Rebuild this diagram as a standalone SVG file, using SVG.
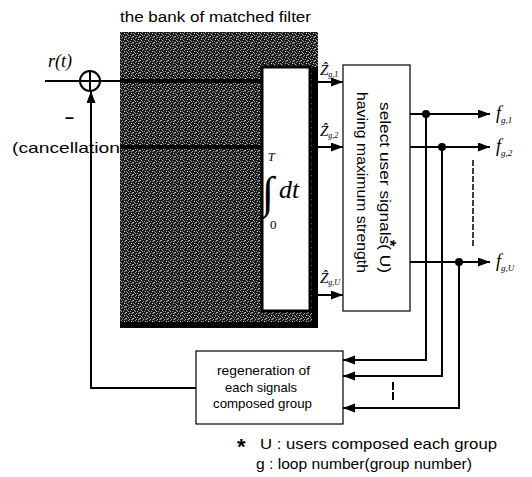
<svg xmlns="http://www.w3.org/2000/svg" width="532" height="477" viewBox="0 0 532 477">
<style>
.box{fill:#fff;stroke:#000;stroke-width:1.2}
.ln{fill:none;stroke:#000;stroke-width:2}
.arr{marker-end:url(#ah)}
.sans{font-family:"Liberation Sans",Arial,sans-serif;fill:#000}
.ser{font-family:"Liberation Serif","Times New Roman",serif;font-style:italic;fill:#000}
.dot{fill:#000}
</style>
<defs>
<marker id="ah" markerUnits="userSpaceOnUse" markerWidth="13" markerHeight="10" refX="12" refY="4.5" orient="auto">
<path d="M0,0 L12,4.5 L0,9 Z" fill="#000"/>
</marker>
<pattern id="noise" width="7" height="6" patternUnits="userSpaceOnUse">
<rect width="7" height="6" fill="#1a1a1a"/>
<rect x="0" y="0" width="1" height="1" fill="#ccc"/>
<rect x="3" y="1" width="1" height="1" fill="#aaa"/>
<rect x="5" y="3" width="1" height="1" fill="#ddd"/>
<rect x="1" y="4" width="1" height="1" fill="#bbb"/>
<rect x="4" y="5" width="1" height="1" fill="#999"/>
<rect x="6" y="0" width="1" height="2" fill="#888"/>
<rect x="2" y="2" width="1" height="1" fill="#999"/>
<rect x="5" y="1" width="1" height="1" fill="#777"/>
<rect x="2" y="5" width="1" height="1" fill="#aaa"/>
<rect x="0" y="3" width="1" height="1" fill="#888"/>
</pattern>
</defs>

<text class="sans" x="120" y="22" font-size="14" textLength="191" lengthAdjust="spacingAndGlyphs">the bank of matched filter</text>
<text class="ser" x="48" y="67" font-size="18">r(t)</text>
<text class="sans" x="65" y="123" font-size="16" font-weight="bold">–</text>
<text class="sans" x="12" y="153" font-size="15" textLength="108" lengthAdjust="spacingAndGlyphs">(cancellation</text>

<g id="matched-filter-bank">
<rect x="120" y="32" width="198" height="296" fill="url(#noise)"/>
<rect x="120" y="79" width="142" height="4" fill="#000"/>
<rect x="120" y="145" width="142" height="4" fill="#000"/>
<rect x="312" y="67" width="6" height="261" fill="#000"/>
<rect x="120" y="322" width="198" height="6" fill="#000"/>
</g>

<g id="integrator">
<rect x="262" y="67" width="48" height="244" fill="#fff" stroke="#000" stroke-width="3"/>
<text class="ser" x="268" y="161" font-size="12">T</text>
<text x="262" y="207" font-family="Liberation Serif,serif" font-size="44" fill="#000">∫</text>
<text class="ser" x="279" y="198" font-size="26">dt</text>
<text x="270" y="229" font-family="Liberation Serif,serif" font-size="13" fill="#000">0</text>
</g>

<g id="select-box">
<rect class="box" x="343" y="65" width="67" height="246"/>
<text class="sans" font-size="15" transform="translate(380,102) rotate(90)" textLength="171" lengthAdjust="spacingAndGlyphs">select user signals(   U)</text>
<text class="sans" font-size="16" font-weight="bold" transform="translate(380,102) rotate(90)" x="138" y="-4">*</text>
<text class="sans" font-size="15" transform="translate(357,92) rotate(90)" textLength="181" lengthAdjust="spacingAndGlyphs">having maximum strength</text>
</g>

<g id="regeneration-box">
<rect class="box" x="196" y="351" width="147" height="73"/>
<text class="sans" x="217" y="375" font-size="13" textLength="93" lengthAdjust="spacingAndGlyphs">regeneration of</text>
<text class="sans" x="225" y="392" font-size="13" textLength="72" lengthAdjust="spacingAndGlyphs">each signals</text>
<text class="sans" x="213" y="408" font-size="13" textLength="99" lengthAdjust="spacingAndGlyphs">composed group</text>
</g>

<g id="summer">
<circle cx="90" cy="81" r="10" fill="#fff" stroke="#000" stroke-width="2"/>
<path d="M80,81 H100 M90,71 V91" stroke="#000" stroke-width="2"/>
</g>

<g id="labels">
<text class="ser" x="320" y="75" font-size="15">Ẑ<tspan font-size="8" dy="2">g,1</tspan></text>
<text class="ser" x="320" y="136" font-size="15">Ẑ<tspan font-size="8" dy="2">g,2</tspan></text>
<text class="ser" x="320" y="283" font-size="15">Ẑ<tspan font-size="8" dy="2">g,U</tspan></text>
<text class="ser" x="496" y="119" font-size="18">f<tspan font-size="9" dy="4">g,1</tspan></text>
<text class="ser" x="496" y="152" font-size="18">f<tspan font-size="9" dy="4">g,2</tspan></text>
<text class="ser" x="496" y="267" font-size="18">f<tspan font-size="9" dy="4">g,U</tspan></text>
</g>

<g id="connectors">
<line class="ln" x1="45" y1="81" x2="80" y2="81"/>
<line class="ln" x1="100" y1="81" x2="120" y2="81"/>
<polyline class="ln arr" points="196,388 91,388 91,91"/>
<line class="ln arr" x1="318" y1="82" x2="343" y2="82"/>
<line class="ln arr" x1="318" y1="147" x2="343" y2="147"/>
<line class="ln arr" x1="318" y1="295" x2="343" y2="295"/>
<line class="ln arr" x1="410" y1="114" x2="490" y2="114"/>
<line class="ln arr" x1="410" y1="147" x2="490" y2="147"/>
<line class="ln arr" x1="410" y1="262" x2="490" y2="262"/>
<circle class="dot" cx="426" cy="114" r="4"/>
<circle class="dot" cx="442" cy="147" r="4"/>
<circle class="dot" cx="459" cy="262" r="4"/>
<polyline class="ln arr" points="426,114 426,360 343,360"/>
<polyline class="ln arr" points="442,147 442,376 343,376"/>
<polyline class="ln arr" points="459,262 459,408 343,408"/>
<line x1="473" y1="160" x2="473" y2="247" stroke="#000" stroke-width="1.5" stroke-dasharray="6,2"/>
<line x1="393" y1="382" x2="393" y2="400" stroke="#000" stroke-width="2" stroke-dasharray="8,2"/>
</g>

<g id="footnote">
<text class="sans" x="237" y="454" font-size="22" font-weight="bold">*</text>
<text class="sans" x="260" y="449" font-size="14" textLength="237" lengthAdjust="spacingAndGlyphs">U : users composed each group</text>
<text class="sans" x="256" y="469" font-size="14" textLength="216" lengthAdjust="spacingAndGlyphs">g : loop number(group number)</text>
</g>
</svg>
